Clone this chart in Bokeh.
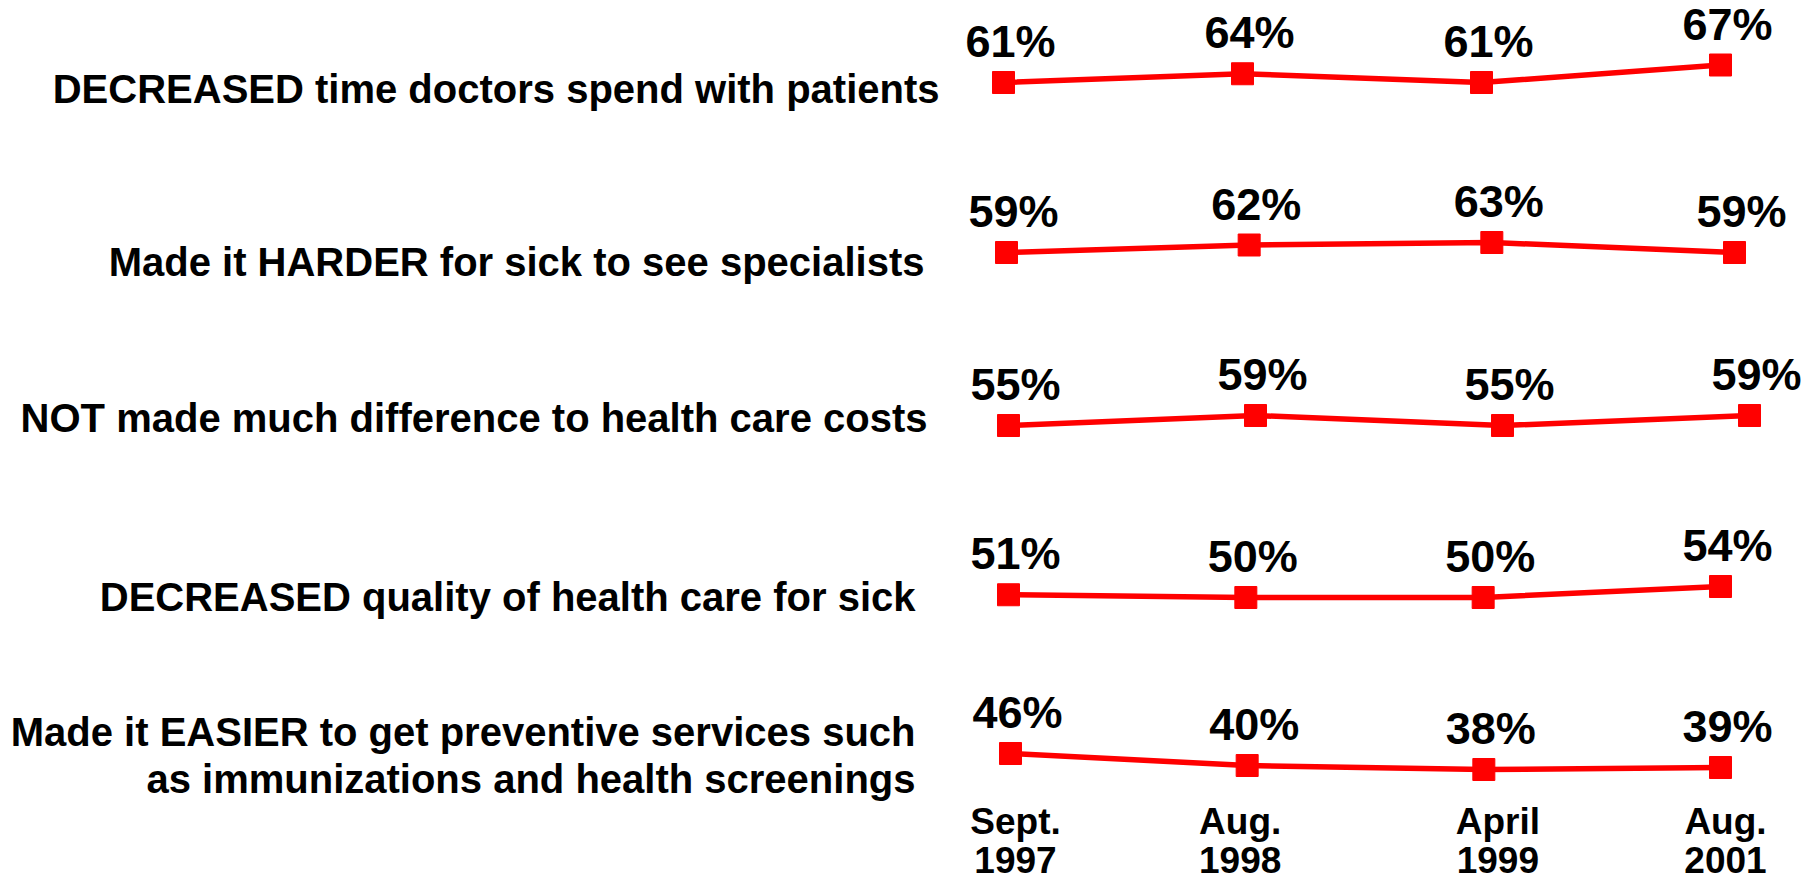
from bokeh.plotting import figure
from bokeh.models import Range1d, ColumnDataSource
from bokeh.core.properties import value
from bokeh.embed import file_html
from bokeh.resources import INLINE

# ---------------- data ----------------
categories = [
    "DECREASED time doctors spend with patients",
    "Made it HARDER for sick to see specialists",
    "NOT made much difference to health care costs",
    "DECREASED quality of health care for sick",
    "Made it EASIER to get preventive services such\nas immunizations and health screenings",
]
months = ["Sept.", "Aug.", "April", "Aug."]
years = ["1997", "1998", "1999", "2001"]

decreased_time = [61, 64, 61, 67]
harder_specialists = [59, 62, 63, 59]
no_cost_difference = [55, 59, 55, 59]
decreased_quality = [51, 50, 50, 54]
easier_preventive = [46, 40, 38, 39]

series = [decreased_time, harder_specialists, no_cost_difference,
          decreased_quality, easier_preventive]

# ---------------- layout ----------------
W, H = 1815, 880
M = 0    # bokeh's page template has no body margin
TY = 11  # correction for where the svg text baseline lands
FONT = "Liberation Sans"
RED = "#FF0000"

# per-row placement (page pixels): x of first/last point, y anchors of two values
row_x = [(1003, 1720), (1006, 1734), (1008, 1749), (1008, 1720), (1010, 1720)]
row_y = [((61, 82), (67, 64.5)),
         ((59, 252), (63, 242)),
         ((55, 425), (59, 415)),
         ((50, 597), (54, 586)),
         ((46, 753), (39, 767))]
# category label right edge and baselines (page pixels)
label_right = [939, 924, 927, 915, 915]
label_base = [[99], [272], [428], [607], [742, 789]]
xlab_dx = [5, -7, 14, 5]
xlab_base = (832, 870)

p = figure(width=W, height=H, output_backend="svg", toolbar_location=None,
           x_range=Range1d(0, W), y_range=Range1d(0, H),
           min_border=0, min_border_left=0, min_border_right=0,
           min_border_top=0, min_border_bottom=0)
p.axis.visible = False
p.grid.visible = False
p.outline_line_color = None
p.background_fill_color = "white"
p.border_fill_color = "white"


def xrange_for(px0, px3, n=4):
    c0, c3 = px0 - M, px3 - M
    k = (c3 - c0) / (n - 1)
    start = -c0 / k
    return Range1d(start, start + W / k)


def yrange_for(a, b):
    (va, pa), (vb, pb) = a, b
    ca, cb = H - (pa - M), H - (pb - M)   # distance from bottom
    k = (cb - ca) / (vb - va)
    start = va - ca / k
    return Range1d(start, start + H / k)


def ypix(base):
    return H - (base - M) + TY


idx = list(range(len(months)))
for r, vals in enumerate(series):
    xr, yr = f"x{r}", f"y{r}"
    p.extra_x_ranges[xr] = xrange_for(*row_x[r])
    p.extra_y_ranges[yr] = yrange_for(*row_y[r])
    src = ColumnDataSource(dict(x=idx, y=vals, t=[f"{v}%" for v in vals]))
    p.line("x", "y", source=src, x_range_name=xr, y_range_name=yr,
           line_color=RED, line_width=5.5)
    p.scatter("x", "y", source=src, x_range_name=xr, y_range_name=yr,
              marker="square", size=22, fill_color=RED, line_color=RED)
    p.text("x", "y", text="t", source=src, x_range_name=xr, y_range_name=yr,
           x_offset=7, y_offset=-41, text_align="center",
           text_baseline="alphabetic", text_font=value(FONT),
           text_font_style="bold", text_font_size="45px", text_color="black")

# category labels
lx, ly, lt = [], [], []
for r, cat in enumerate(categories):
    for line, base in zip(cat.split("\n"), label_base[r]):
        lx.append(label_right[r] - M)
        ly.append(ypix(base))
        lt.append(line)
p.text(x=lx, y=ly, text=lt, text_align="right", text_baseline="alphabetic",
       text_font=value(FONT), text_font_style="bold", text_font_size="40px",
       text_color="black")

# x tick labels (under last row)
xr_last = "x4"
for texts, base in zip((months, years), xlab_base):
    src = ColumnDataSource(dict(x=idx, y=[ypix(base)] * len(idx), t=texts,
                                dx=xlab_dx))
    p.text("x", "y", text="t", source=src, x_range_name=xr_last,
           x_offset="dx", text_align="center", text_baseline="alphabetic",
           text_font=value(FONT), text_font_style="bold",
           text_font_size="37px", text_color="black")

open("out.html", "w").write(file_html(p, INLINE))
